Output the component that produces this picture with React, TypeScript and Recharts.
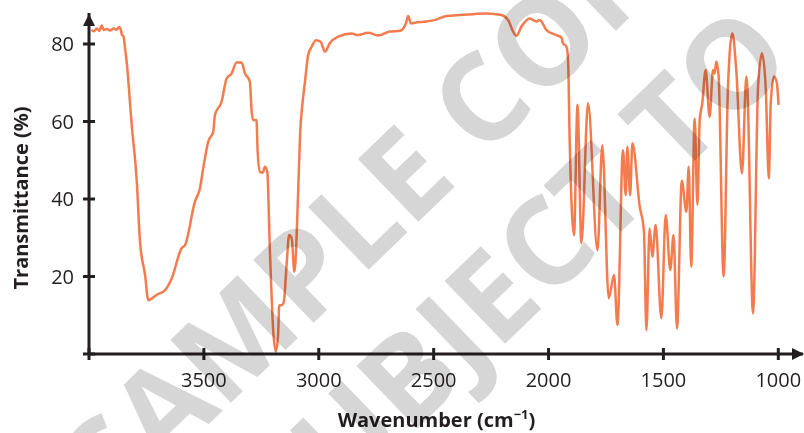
import React from 'react';
import { LineChart, Line, XAxis, YAxis, ReferenceDot, Label } from 'recharts';

// IR spectrum (wavenumber in cm-1, transmittance in %)
const wavenumbers = [
  3990, 3978, 3966, 3955, 3945, 3936, 3922, 3908, 3893, 3880, 3868, 3862, 3857, 3850,
  3843, 3836, 3814, 3792, 3778, 3756, 3742, 3705, 3669, 3640, 3597, 3582, 3539, 3517,
  3503, 3481, 3459, 3452, 3423, 3401, 3379, 3358, 3336, 3321, 3300, 3292, 3285, 3271,
  3266, 3256, 3244, 3234, 3224, 3213, 3198, 3187, 3177, 3172, 3162, 3152, 3140, 3129,
  3118, 3106, 3096, 3088, 3080, 3072, 3060, 3046, 3031, 3012, 2992, 2973, 2952, 2915,
  2857, 2829, 2785, 2742, 2691, 2647, 2621, 2611, 2599, 2582, 2531, 2502, 2444, 2386,
  2328, 2270, 2205, 2176, 2154, 2140, 2118, 2082, 2053, 2038, 2009, 1966, 1944, 1937,
  1922, 1915, 1908, 1889, 1874, 1857, 1828, 1787, 1766, 1738, 1715, 1700, 1676, 1664,
  1657, 1645, 1635, 1603, 1585, 1574, 1560, 1548, 1534, 1509, 1490, 1470, 1456, 1441,
  1420, 1400, 1390, 1379, 1364, 1352, 1342, 1331, 1316, 1299, 1284, 1277, 1270, 1260,
  1238, 1219, 1200, 1183, 1158, 1139, 1135, 1110, 1088, 1071, 1055, 1041, 1033, 1019,
  1006, 999,
];

const transmittance = [
  83.6, 83.3, 84.0, 83.4, 84.8, 83.6, 83.9, 83.5, 84.0, 83.7, 84.4, 83.8, 82.4, 82.0,
  78.9, 75.4, 59.1, 44.5, 29.0, 20.4, 13.9, 15.3, 16.5, 19.5, 27.3, 28.1, 39.3, 42.8,
  47.9, 54.8, 57.4, 61.7, 65.1, 71.1, 72.4, 75.2, 75.2, 72.4, 70.3, 62.5, 60.4, 60.4,
  52.2, 47.0, 46.8, 48.3, 47.0, 27.3, 5.8, 0.6, 4.9, 12.6, 12.6, 13.5, 23.0, 30.7,
  29.9, 21.2, 31.0, 45.0, 58.0, 64.0, 70.3, 77.2, 79.3, 81.0, 80.6, 78.0, 80.2, 81.9,
  82.7, 82.3, 82.9, 82.2, 83.2, 83.4, 85.3, 87.2, 85.3, 85.5, 85.8, 86.1, 87.2, 87.5,
  87.7, 87.9, 87.5, 86.2, 83.2, 82.1, 84.5, 86.6, 85.8, 86.2, 83.6, 82.3, 81.7, 80.2,
  79.3, 75.9, 55.2, 30.7, 64.3, 28.6, 64.7, 26.8, 53.9, 14.4, 20.4, 7.5, 52.6, 41.0,
  53.5, 41.0, 54.4, 38.0, 32.0, 6.2, 32.4, 25.1, 33.3, 9.2, 35.9, 21.7, 30.7, 6.6,
  44.7, 36.7, 48.3, 22.5, 60.8, 38.5, 60.4, 64.7, 73.3, 61.2, 73.3, 72.4, 75.5, 72.0,
  20.0, 69.0, 82.8, 73.3, 46.6, 71.6, 69.0, 10.5, 69.0, 77.6, 69.0, 45.3, 64.7, 71.6,
  69.8, 64.3,
];

const xTicks = [4000, 3500, 3000, 2500, 2000, 1500, 1000];
const yTicks = [0, 20, 40, 60, 80];
const xTitle = 'Wavenumber (cm';
const xTitleSup = '\u22121';
const yTitle = 'Transmittance (%)';
const watermarkLines = ['SAMPLE COPY', 'SUBJECT TO'];

const INK = '#231f20';
const ORANGE = '#f47b4e';
const FONT = "'Open Sans', sans-serif";

const chartData = wavenumbers.map((wn, i) => ({ wn, t: transmittance[i] }));

const XTick = (props: any) => {
  const { x, y, payload } = props;
  return (
    <g>
      <line x1={x} x2={x} y1={y - 6} y2={y + 6} stroke={INK} strokeWidth={3} />
      {payload.value !== 4000 && (
        <text x={x} y={y + 33} textAnchor="middle" fontFamily={FONT} fontSize={20} fill={INK}>
          {payload.value}
        </text>
      )}
    </g>
  );
};

const YTick = (props: any) => {
  const { x, y, payload } = props;
  return (
    <g>
      <line x1={x - 6} x2={x + 6} y1={y} y2={y} stroke={INK} strokeWidth={3} />
      {payload.value !== 0 && (
        <text x={x - 15} y={y + 7} textAnchor="end" fontFamily={FONT} fontSize={20} fill={INK}>
          {payload.value}
        </text>
      )}
    </g>
  );
};

const XTitle = (props: any) => {
  const vb = props.viewBox || { x: 89, y: 354, width: 714, height: 79 };
  return (
    <text
      x={vb.x + vb.width / 2 - 9.5}
      y={vb.y + 73}
      textAnchor="middle"
      fontFamily={FONT}
      fontWeight={700}
      fontSize={20}
      fill={INK}
    >
      {xTitle}
      <tspan dy={-8} fontSize={13}>{xTitleSup}</tspan>
      <tspan dy={8}>)</tspan>
    </text>
  );
};

const YTitle = (props: any) => {
  const vb = props.viewBox || { x: 0, y: 13, width: 89, height: 341 };
  const cx = vb.x + 28;
  const cy = vb.y + 185;
  return (
    <text
      x={cx}
      y={cy}
      transform={`rotate(-90, ${cx}, ${cy})`}
      textAnchor="middle"
      fontFamily={FONT}
      fontWeight={700}
      fontSize={20}
      fill={INK}
    >
      {yTitle}
    </text>
  );
};

const UpArrow = (p: any) => (
  <path d={`M${p.cx},${p.cy + 1} l-6,12 l12,0 z`} fill={INK} />
);

const RightArrow = (p: any) => (
  <path d={`M${p.cx + 1},${p.cy} l-12,-6 l0,12 z`} fill={INK} />
);

export default function App() {
  return (
    <div style={{ position: 'absolute', left: 0, top: 0, width: 804, height: 433, background: '#fff' }}>
      <LineChart width={804} height={433} data={chartData} margin={{ top: 13, right: 1, bottom: 0, left: 0 }}>
        <XAxis
          dataKey="wn"
          type="number"
          domain={[892.5, 4000]}
          reversed
          allowDataOverflow
          ticks={xTicks}
          interval={0}
          tickSize={0}
          tickMargin={0}
          tickLine={false}
          tick={XTick}
          axisLine={{ stroke: INK, strokeWidth: 3 }}
          height={79}
        >
          <Label content={XTitle} />
        </XAxis>
        <YAxis
          type="number"
          domain={[0, 88]}
          ticks={yTicks}
          interval={0}
          tickSize={0}
          tickMargin={0}
          tickLine={false}
          tick={YTick}
          axisLine={{ stroke: INK, strokeWidth: 3 }}
          width={89}
        >
          <Label content={YTitle} />
        </YAxis>
        <Line
          dataKey="t"
          type="monotone"
          stroke={ORANGE}
          strokeWidth={2.5}
          dot={false}
          activeDot={false}
          isAnimationActive={false}
        />
        <ReferenceDot x={4000} y={88} r={0} ifOverflow="visible" shape={UpArrow} />
        <ReferenceDot x={892.5} y={0} r={0} ifOverflow="visible" shape={RightArrow} />
      </LineChart>
      <svg
        width={804}
        height={433}
        style={{ position: 'absolute', left: 0, top: 0, pointerEvents: 'none', mixBlendMode: 'multiply' }}
      >
        <g transform="rotate(-44)" fontFamily={FONT} fontWeight={700} fontSize={122} fill="#d6d6d6">
          <text x={-276} y={450}>{watermarkLines[0]}</text>
          <text x={-168} y={598}>{watermarkLines[1]}</text>
        </g>
      </svg>
    </div>
  );
}
